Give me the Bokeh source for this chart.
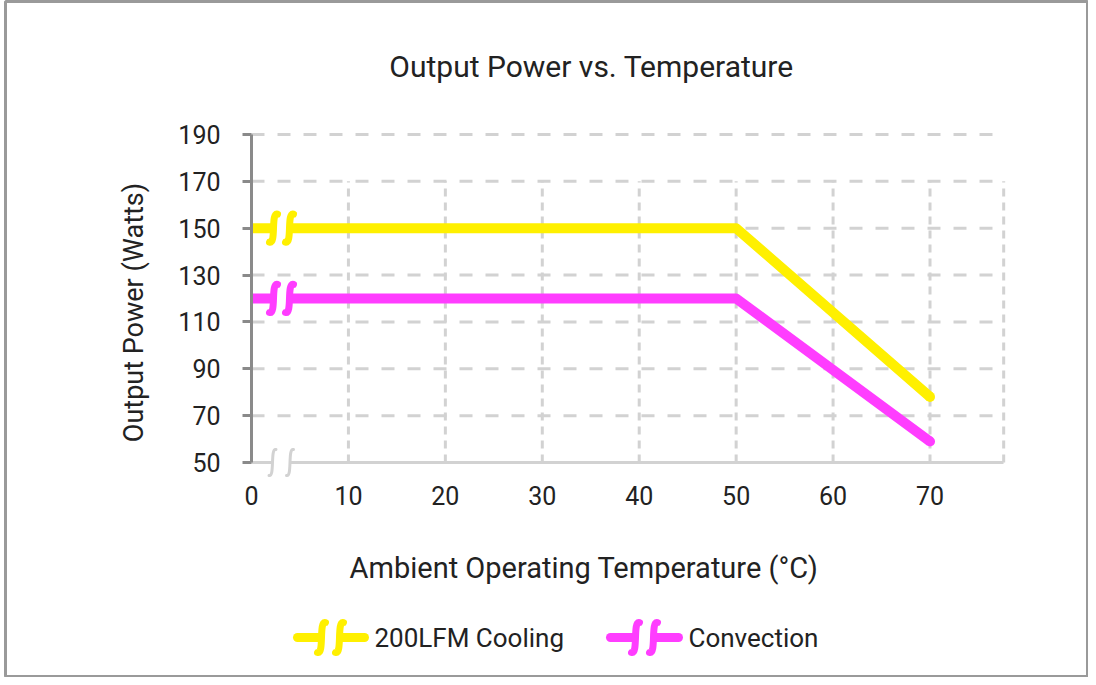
import math
from bokeh.plotting import figure
from bokeh.models import Range1d, LinearAxis, FixedTicker, Label, Grid
from bokeh.embed import file_html
from bokeh.resources import INLINE

# ---------------- data ----------------
temps = [0, 50, 70]
cooling_200lfm = [150, 150, 78]
convection = [120, 120, 59]
series_names = ["200LFM Cooling", "Convection"]
series_colors = ["#FFF000", "#FF3DFF"]
x_ticks = [0, 10, 20, 30, 40, 50, 60, 70]
y_ticks = [50, 70, 90, 110, 130, 150, 170, 190]
x_axis_max = 77.6
vgrid_top = 170

title_text = "Output Power vs. Temperature"
xlabel_text = "Ambient Operating Temperature (°C)"
ylabel_text = "Output Power (Watts)"

# ---------------- layout helpers (canvas pixels -> data) ----------------
W, H = 1088, 677
FL, FT = 5, 1          # frame inset (outer border position)
X0_PX, SX = 251.0, 9.693
Y50_PX, SY = 462.0, 2.343


def xd(px):
    return (px - X0_PX) / SX


def yd(py):
    return 50 + (Y50_PX - py) / SY


FONT = "Roboto"
TEXT_COLOR = "#222222"
GRID_COLOR = "#d2d2d2"

p = figure(width=W, height=H,
           x_range=Range1d(xd(FL), xd(W)),
           y_range=Range1d(yd(H), yd(FT)),
           x_axis_location=None, y_axis_location=None,
           min_border=0, min_border_left=FL, min_border_top=FT,
           toolbar_location=None, output_backend="svg",
           background_fill_color="white", border_fill_color="white",
           outline_line_color="#9a9a9a", outline_line_width=3)
p.center = [r for r in p.center if not isinstance(r, Grid)]

# ---------------- grid lines ----------------
h_ys = y_ticks[1:]
p.segment(x0=[0] * len(h_ys), y0=h_ys, x1=[x_axis_max] * len(h_ys), y1=h_ys,
          line_color=GRID_COLOR, line_width=3, line_dash="13 13")
v_xs = x_ticks[1:] + [x_axis_max]
p.segment(x0=v_xs, y0=[y_ticks[0]] * len(v_xs), x1=v_xs, y1=[vgrid_top] * len(v_xs),
          line_color=GRID_COLOR, line_width=3, line_dash="8 6")

# ---------------- axes ----------------
yaxis = LinearAxis(fixed_location=0, bounds=(y_ticks[0], y_ticks[-1]),
                   ticker=FixedTicker(ticks=y_ticks),
                   axis_line_color="#8a8a8a", axis_line_width=3,
                   major_tick_line_color="#8a8a8a", major_tick_line_width=3,
                   major_tick_out=9, major_tick_in=0,
                   minor_tick_out=0, minor_tick_in=0,
                   major_label_standoff=22,
                   major_label_text_font=FONT, major_label_text_font_size="25px",
                   major_label_text_color=TEXT_COLOR)
p.add_layout(yaxis, "left")

xaxis = LinearAxis(fixed_location=y_ticks[0], bounds=(0, x_axis_max),
                   ticker=FixedTicker(ticks=x_ticks),
                   axis_line_color=GRID_COLOR, axis_line_width=3,
                   major_tick_out=0, major_tick_in=0,
                   minor_tick_out=0, minor_tick_in=0,
                   major_label_standoff=23,
                   major_label_text_font=FONT, major_label_text_font_size="25px",
                   major_label_text_color=TEXT_COLOR)
p.add_layout(xaxis, "below")

# ---------------- data lines ----------------
series = [cooling_200lfm, convection]
for vals, col in zip(series, series_colors):
    p.line(temps, vals, line_color=col, line_width=10, line_join="round", line_cap="butt")
    p.scatter([temps[-1]], [vals[-1]], size=10, fill_color=col, line_color=None)


# ---------------- break marks ----------------
def break_marks(xs_px, yc, color, lw, hw, hh, ctrl, gap_half):
    # white gap
    p.quad(left=[xd(xs_px[0])], right=[xd(xs_px[1])],
           bottom=[yc - gap_half / SY], top=[yc + gap_half / SY],
           fill_color="white", line_color=None, level="overlay")
    x0, y0, x1, y1, cx0, cy0, cx1, cy1 = [], [], [], [], [], [], [], []
    for px in xs_px:
        xc = xd(px)
        x0.append(xc - hw / SX); y0.append(yc - hh / SY)
        cx0.append(xc + ctrl / SX); cy0.append(yc - (hh + 2) / SY)
        cx1.append(xc - ctrl / SX); cy1.append(yc + (hh + 2) / SY)
        x1.append(xc + hw / SX); y1.append(yc + hh / SY)
    p.bezier(x0=x0, y0=y0, x1=x1, y1=y1, cx0=cx0, cy0=cy0, cx1=cx1, cy1=cy1,
             line_color=color, line_width=lw, line_cap="round", level="overlay")


for vals, col in zip(series, series_colors):
    break_marks([273, 289], vals[0], col, 7, 4, 14, 3, 6)

break_marks([272, 289.5], y_ticks[0], GRID_COLOR, 3, 3.5, 13, 2.5, 3)

# ---------------- texts ----------------
p.add_layout(Label(x=xd(591), y=yd(66), text=title_text, text_align="center",
                   text_baseline="middle", text_font=FONT, text_font_size="30px",
                   text_color=TEXT_COLOR))
p.add_layout(Label(x=xd(583.5), y=yd(567), text=xlabel_text, text_align="center",
                   text_baseline="middle", text_font=FONT, text_font_size="29px",
                   text_color=TEXT_COLOR))
p.add_layout(Label(x=xd(133), y=yd(312), text=ylabel_text, text_align="center",
                   text_baseline="middle", angle=math.pi / 2, text_font=FONT,
                   text_font_size="27px", text_color=TEXT_COLOR))

# ---------------- legend ----------------
LEG_Y = yd(637)
legend_layout = [
    # (line start px, line end px, marks px, text px)
    (297, 364, [321, 339], 374),
    (610, 678, [635, 653], 688),
]
for (ls, le, marks, tx), name, col in zip(legend_layout, series_names, series_colors):
    p.segment(x0=[xd(ls)], y0=[LEG_Y], x1=[xd(le)], y1=[LEG_Y], line_color=col,
              line_width=9, line_cap="round", level="overlay")
    break_marks(marks, LEG_Y, col, 7, 4, 15, 3, 6)
    p.add_layout(Label(x=xd(tx), y=LEG_Y, text=name, text_align="left",
                       text_baseline="middle", text_font=FONT, text_font_size="26px",
                       text_color=TEXT_COLOR))

open("out.html", "w").write(file_html(p, INLINE))
